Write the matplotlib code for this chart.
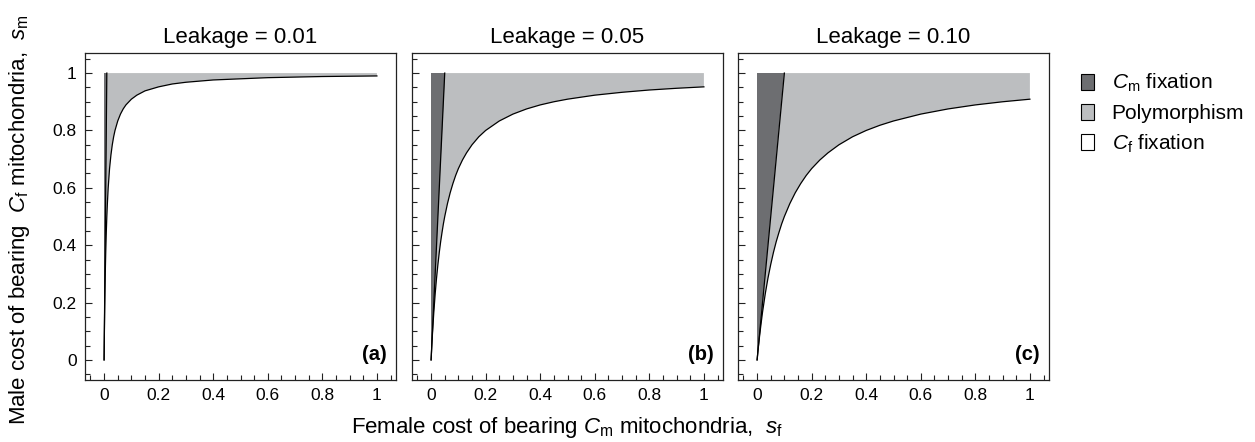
import matplotlib
matplotlib.use("Agg")
import matplotlib.pyplot as plt
from matplotlib.patches import Patch
from matplotlib.ticker import MultipleLocator

plt.rcParams['font.family'] = ['Liberation Sans', 'DejaVu Sans']
plt.rcParams['mathtext.fontset'] = 'custom'
plt.rcParams['mathtext.rm'] = 'Liberation Sans'
plt.rcParams['mathtext.it'] = 'Liberation Sans:italic'
plt.rcParams['mathtext.bf'] = 'Liberation Sans:bold'

# ---- data ----
leakages = [0.01, 0.05, 0.10]
titles = ["Leakage = 0.01", "Leakage = 0.05", "Leakage = 0.10"]
panel_tags = ["(a)", "(b)", "(c)"]

# lower boundary (Cf fixation / polymorphism), sf -> sm
curve_a_sf = [0, 0.0005, 0.001, 0.002, 0.003, 0.004, 0.005, 0.006, 0.008, 0.01, 0.012, 0.015,
              0.02, 0.025, 0.03, 0.035, 0.04, 0.05, 0.06, 0.07, 0.08, 0.1, 0.12, 0.15, 0.2,
              0.25, 0.3, 0.4, 0.5, 0.6, 0.7, 0.8, 0.9, 1.0]
curve_a_sm = [0, 0.048, 0.091, 0.167, 0.231, 0.286, 0.333, 0.375, 0.444, 0.50, 0.545, 0.60,
              0.667, 0.714, 0.75, 0.778, 0.80, 0.833, 0.857, 0.875, 0.889, 0.909, 0.923, 0.938, 0.952,
              0.962, 0.968, 0.976, 0.980, 0.984, 0.986, 0.988, 0.989, 0.990]

curve_b_sf = [0, 0.0025, 0.005, 0.0075, 0.01, 0.015, 0.02, 0.025, 0.03, 0.035, 0.04, 0.045,
              0.05, 0.06, 0.07, 0.08, 0.09, 0.1, 0.115, 0.13, 0.15, 0.175, 0.2, 0.25, 0.3,
              0.35, 0.4, 0.45, 0.5, 0.6, 0.7, 0.8, 0.9, 1.0]
curve_b_sm = [0, 0.048, 0.091, 0.130, 0.167, 0.231, 0.286, 0.333, 0.375, 0.412, 0.444, 0.474,
              0.50, 0.545, 0.583, 0.615, 0.643, 0.667, 0.697, 0.722, 0.75, 0.778, 0.80, 0.833, 0.857,
              0.875, 0.889, 0.90, 0.909, 0.923, 0.933, 0.941, 0.947, 0.952]

curve_c_sf = [0, 0.005, 0.01, 0.015, 0.02, 0.03, 0.04, 0.05, 0.06, 0.07, 0.08, 0.09,
              0.1, 0.12, 0.14, 0.16, 0.18, 0.2, 0.23, 0.26, 0.3, 0.35, 0.4, 0.45, 0.5,
              0.6, 0.7, 0.8, 0.9, 1.0]
curve_c_sm = [0, 0.048, 0.091, 0.130, 0.167, 0.231, 0.286, 0.333, 0.375, 0.412, 0.444, 0.474,
              0.50, 0.545, 0.583, 0.615, 0.643, 0.667, 0.697, 0.722, 0.75, 0.778, 0.80, 0.818, 0.833,
              0.857, 0.875, 0.889, 0.90, 0.909]

curves = [(curve_a_sf, curve_a_sm), (curve_b_sf, curve_b_sm), (curve_c_sf, curve_c_sm)]

tick_vals = [0, 0.2, 0.4, 0.6, 0.8, 1]
tick_labels = ["0", "0.2", "0.4", "0.6", "0.8", "1"]

legend_labels = [r"$\mathit{C}_\mathrm{m}$ fixation", "Polymorphism", r"$\mathit{C}_\mathrm{f}$ fixation"]

DARK = "#6d6e71"
LIGHT = "#bcbec0"

W, H = 1255, 442
fig = plt.figure(figsize=(W / 100, H / 100), dpi=100)

lefts = [85, 412, 738]
ax_w = 311
ax_top, ax_bot = 53, 380

for i, L in enumerate(leakages):
    ax = fig.add_axes([lefts[i] / W, 1 - ax_bot / H, ax_w / W, (ax_bot - ax_top) / H])
    sf, sm = curves[i]
    # polymorphism region: above the lower curve up to sm = 1
    ax.fill_between(sf, sm, [1] * len(sf), facecolor=LIGHT, edgecolor='none', zorder=1)
    # Cm fixation region: left of line sm = sf / L
    ax.fill([0, 0, L], [0, 1, 1], facecolor=DARK, edgecolor='none', zorder=2)
    ax.plot([0, L], [0, 1], color='black', lw=0.9, zorder=3)
    ax.plot(sf, sm, color='black', lw=0.9, zorder=3, solid_joinstyle='round')

    ax.set_xlim(-0.07, 1.07)
    ax.set_ylim(-0.07, 1.07)
    ax.xaxis.set_minor_locator(MultipleLocator(0.05))
    ax.yaxis.set_minor_locator(MultipleLocator(0.05))
    ax.set_xticks(tick_vals)
    ax.set_xticklabels(tick_labels)
    ax.set_yticks(tick_vals)
    if i == 0:
        ax.set_yticklabels(tick_labels)
    else:
        ax.set_yticklabels([])
    ax.tick_params(which='both', direction='in', top=False, right=False,
                   labelsize=12.5, pad=6, width=0.8, color='#222222')
    ax.tick_params(which='major', length=5)
    ax.tick_params(which='minor', length=3.5)
    for s in ax.spines.values():
        s.set_linewidth(0.9)
        s.set_color('#222222')
    ax.set_title(titles[i], fontsize=16, pad=7)
    ax.text(1.035, 0.02, panel_tags[i], ha='right', va='center', fontsize=14.5, fontweight='bold')

fig.text(567 / W, 1 - 427 / H,
         r"Female cost of bearing $\mathit{C}_\mathrm{m}$ mitochondria,  $\mathit{s}_\mathrm{f}$",
         ha='center', va='center', fontsize=16)
fig.text(20 / W, 1 - 220 / H,
         r"Male cost of bearing  $\mathit{C}_\mathrm{f}$ mitochondria,  $\mathit{s}_\mathrm{m}$",
         ha='center', va='center', rotation=90, fontsize=16)

handles = [Patch(facecolor=DARK, edgecolor='black', lw=0.8),
           Patch(facecolor=LIGHT, edgecolor='black', lw=0.8),
           Patch(facecolor='white', edgecolor='black', lw=0.8)]
fig.legend(handles, legend_labels, loc='upper left', bbox_to_anchor=(1081 / W, 1 - 72 / H),
           frameon=False, fontsize=15, handlelength=0.62, handleheight=0.82,
           handletextpad=0.85, labelspacing=0.45, borderpad=0, borderaxespad=0)

fig.savefig("out.png", dpi=100)
